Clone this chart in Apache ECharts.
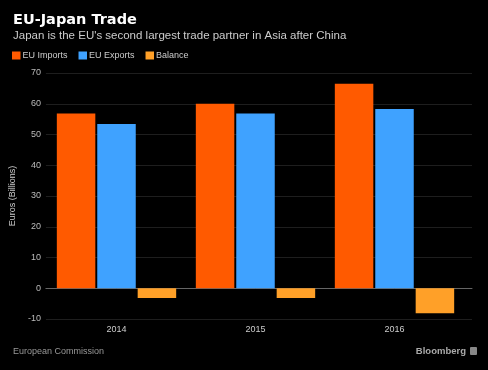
<!DOCTYPE html>
<html>
<head>
<meta charset="utf-8">
<script src="https://cdn.jsdelivr.net/npm/echarts@6/dist/echarts.min.js"></script>
<style>
html,body{margin:0;padding:0;background:#000;}
#c{width:488px;height:370px;}
</style>
</head>
<body>
<div id="c"></div>
<script>
const years = ['2014', '2015', '2016'];
const euImports = [56.8, 60.0, 66.5];
const euExports = [53.4, 56.8, 58.3];
const balance = [-3.2, -3.2, -8.1];
const yTicks = { min: -10, max: 70, interval: 10 };

const FONT = 'Liberation Sans';
const chart = echarts.init(document.getElementById('c'), null, { renderer: 'canvas' });
const gridTop = 73, gridBottom = 51;
chart.setOption({
  backgroundColor: '#000',
  animation: false,
  textStyle: { fontFamily: FONT },
  title: [
    { text: 'EU-Japan Trade', left: 13, top: 13, padding: 0,
      textStyle: { color: '#fff', fontSize: 14.5, fontWeight: 'bold', fontFamily: 'DejaVu Sans' } },
    { text: "Japan is the EU's second largest trade partner in Asia after China", left: 13, top: 30, padding: 0,
      textStyle: { color: '#ccc', fontSize: 11.5, fontWeight: 'normal', fontFamily: FONT } },
    { text: 'European Commission', left: 13, top: 347, padding: 0,
      textStyle: { color: '#999', fontSize: 9, fontWeight: 'normal', fontFamily: FONT } },
    { text: 'Bloomberg', right: 22, top: 346, padding: 0,
      textStyle: { color: '#aaa', fontSize: 9.5, fontWeight: 'bold', fontFamily: FONT } }
  ],
  legend: {
    left: 12, top: 51, padding: 0, icon: 'rect', itemWidth: 8.5, itemHeight: 8, itemGap: 11,
    textStyle: { color: '#ccc', fontSize: 9, padding: [0, 0, 0, -3] },
    data: ['EU Imports', 'EU Exports', 'Balance']
  },
  grid: [
    { left: 40, right: 16, top: gridTop, bottom: gridBottom },
    { left: 47, right: 24, top: gridTop, bottom: gridBottom }
  ],
  xAxis: [
    { gridIndex: 0, type: 'value', min: 0, max: 1,
      axisLine: { show: true, lineStyle: { color: '#666' } },
      axisTick: { show: false }, axisLabel: { show: false }, splitLine: { show: false } },
    { gridIndex: 1, type: 'category', data: years,
      axisLine: { show: false },
      axisTick: { show: true, inside: true, length: 4, alignWithLabel: true, lineStyle: { color: '#555' } },
      axisLabel: { color: '#ccc', fontSize: 9, margin: 6 } }
  ],
  yAxis: [
    { gridIndex: 0, type: 'value', min: yTicks.min, max: yTicks.max, interval: yTicks.interval,
      name: 'Euros (Billions)', nameLocation: 'middle', nameGap: 22,
      nameTextStyle: { color: '#ccc', fontSize: 9 },
      axisLine: { show: false }, axisTick: { show: false },
      axisLabel: { color: '#bbb', fontSize: 9, margin: 5 },
      splitLine: { lineStyle: { color: '#1e1e1e' } } },
    { gridIndex: 1, type: 'value', min: yTicks.min, max: yTicks.max, interval: yTicks.interval, show: false }
  ],
  series: [
    { name: 'EU Imports', type: 'bar', xAxisIndex: 1, yAxisIndex: 1, data: euImports,
      barWidth: 38.5, barGap: '5%', itemStyle: { color: '#ff5a00' } },
    { name: 'EU Exports', type: 'bar', xAxisIndex: 1, yAxisIndex: 1, data: euExports,
      barWidth: 38.5, barGap: '5%', itemStyle: { color: '#3fa2ff' } },
    { name: 'Balance', type: 'bar', xAxisIndex: 1, yAxisIndex: 1, data: balance,
      barWidth: 38.5, barGap: '5%', itemStyle: { color: '#ffa028' } }
  ],
  graphic: [
    { type: 'rect', right: 11, top: 347, shape: { width: 7, height: 8, r: 1 },
      style: { fill: '#888' } }
  ]
});
</script>
</body>
</html>
